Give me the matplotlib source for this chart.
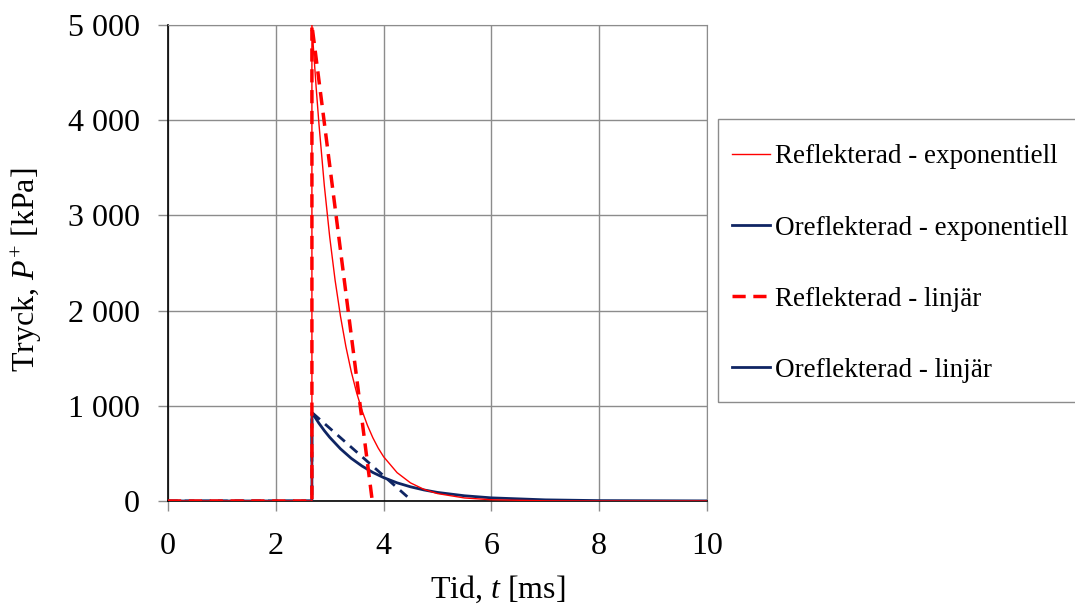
import numpy as np
import matplotlib
matplotlib.use("Agg")
import matplotlib.pyplot as plt
from matplotlib.lines import Line2D
from matplotlib.patches import Rectangle
from matplotlib.ticker import FuncFormatter, MultipleLocator

plt.rcParams['font.family'] = ['Liberation Serif', 'DejaVu Serif']
plt.rcParams['mathtext.fontset'] = 'custom'
plt.rcParams['mathtext.rm'] = 'Liberation Serif'
plt.rcParams['mathtext.it'] = 'Liberation Serif:italic'

# tid [ms] och tryck [kPa]
t_refl_exp = [0, 2.67, 2.67, 2.7, 2.75, 2.8, 2.9, 3.0, 3.1, 3.2, 3.3, 3.4, 3.5, 3.6, 3.7, 3.8, 3.9,
              4.0, 4.25, 4.5, 4.75, 5.0, 5.5, 6.0, 7.0, 8.0, 10.0]
p_refl_exp = [0, 0, 5000, 4739, 4334, 3965, 3315, 2774, 2320, 1941, 1623, 1358, 1136, 950, 795, 665, 556,
              465, 298, 190, 122, 78, 32, 13, 2, 0, 0]

t_orefl_exp = [0, 2.67, 2.67, 2.8, 2.9, 3.0, 3.2, 3.4, 3.6, 3.8, 4.0, 4.25, 4.5, 4.75, 5.0, 5.5, 6.0,
               7.0, 8.0, 10.0]
p_orefl_exp = [0, 0, 930, 817, 739, 669, 548, 448, 367, 300, 246, 191, 149, 116, 90, 55, 33,
               12, 4, 1]

t_refl_lin = [0, 2.67, 2.67, 3.79]
p_refl_lin = [0, 0, 5000, 0]

t_orefl_lin = [0, 2.67, 2.67, 4.53]
p_orefl_lin = [0, 0, 930, 0]

labels = ['Reflekterad - exponentiell', 'Oreflekterad - exponentiell',
          'Reflekterad - linjär', 'Oreflekterad - linjär']

red = '#FF0000'
navy = '#0F2563'
W, H = 1075, 610

fig = plt.figure(figsize=(W / 100, H / 100), dpi=100)
ax = fig.add_axes([168 / W, 1 - 501 / H, (707 - 168) / W, (501 - 25) / H])

ax.plot(t_refl_exp, p_refl_exp, color=red, lw=1.0, zorder=4)
ax.plot(t_orefl_exp, p_orefl_exp, color=navy, lw=2.0, zorder=3)
ax.plot(t_refl_lin, p_refl_lin, color=red, lw=2.5, dashes=(3.8, 2.2), zorder=5)
ax.plot(t_orefl_lin, p_orefl_lin, color=navy, lw=2.0, dashes=(3.5, 2.5), zorder=3)

ax.set_xlim(0, 10)
ax.set_ylim(0, 5000)
ax.xaxis.set_major_locator(MultipleLocator(2))
ax.yaxis.set_major_locator(MultipleLocator(1000))
ax.yaxis.set_major_formatter(FuncFormatter(lambda v, p: f'{int(v):,}'.replace(',', ' ')))
ax.grid(True, color='#8C8C8C', lw=1.0)
ax.set_axisbelow(True)

for s in ['top', 'right']:
    ax.spines[s].set_color('#8C8C8C')
for s in ['left', 'bottom']:
    ax.spines[s].set_color('black')
    ax.spines[s].set_linewidth(1.2)

ax.tick_params(axis='both', labelsize=23, direction='out', length=7, width=1, color='#8C8C8C')
ax.tick_params(axis='y', pad=13)
ax.tick_params(axis='x', pad=15)

ax.set_xlabel('Tid, $t$ [ms]', fontsize=23)
ax.xaxis.set_label_coords(0.612, -0.152)
ax.set_ylabel('Tryck, $P^{+}$ [kPa]', fontsize=23)
ax.yaxis.set_label_coords(-0.23, 0.485)

# legendram, klipps av i högerkanten som i originalet
fig.patches.append(Rectangle((718 / W, 1 - 402 / H), (W + 5 - 718) / W, (402 - 119) / H,
                             transform=fig.transFigure, fill=False, edgecolor='#8C8C8C', lw=1.0))

handles = [
    Line2D([], [], color=red, lw=1.0),
    Line2D([], [], color=navy, lw=2.0),
    Line2D([], [], color=red, lw=2.5, dashes=(3.8, 2.2)),
    Line2D([], [], color=navy, lw=2.0),
]
fig.legend(handles, labels, loc='upper left', bbox_to_anchor=(732 / W, 1 - 144.5 / H),
           fontsize=19.5, frameon=False, handlelength=1.4, handletextpad=0.2,
           labelspacing=1.7, borderpad=0, borderaxespad=0)

fig.savefig('out.png', dpi=100)
